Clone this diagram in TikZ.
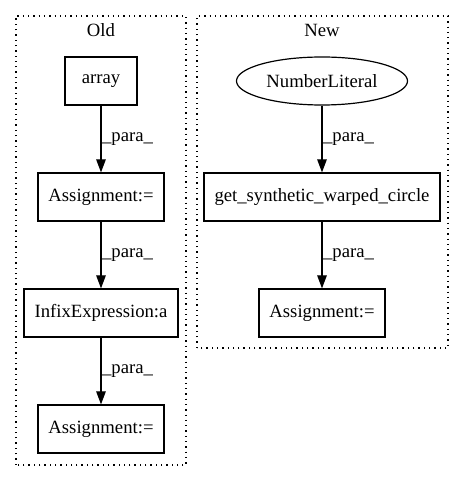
\documentclass[tikz,border=0pt]{standalone}
\usepackage{fontspec}
\setmainfont{Liberation Serif}
\usetikzlibrary{shapes.geometric,arrows.meta}

\begin{document}
\begin{tikzpicture}[x=1pt, y=1pt,
    every node/.style={font=\fontsize{18.7}{22}\selectfont},
    box/.style={draw, rectangle, line width=1.2pt, minimum width=72pt, minimum height=48pt, inner xsep=10.5pt},
    oval/.style={draw, ellipse, line width=1.2pt, minimum width=171pt, minimum height=48pt, inner sep=0pt},
    cluster/.style={draw, line width=1.2pt, dash pattern=on 1.3pt off 4pt},
    edge/.style={-{Triangle[length=13pt, width=9.5pt]}, line width=1.2pt},
    lbl/.style={midway, right, inner sep=0.5pt}]
    \useasboundingbox (0,0) rectangle (464,480);
    % Old cluster
    \draw[cluster] (16,15) rectangle (186,464);
    \node (oldt) at (101,450) {Old};
    \node[box] (arr) at (101,399) {array};
    \node[box] (asg1) at (101,283) {Assignment:=};
    \node[box] (infix) at (101,167) {InfixExpression:a};
    \node[box] (asg2) at (101,51) {Assignment:=};
    % New cluster
    \draw[cluster] (197,132) rectangle (448,464);
    \node (newt) at (322,450) {New};
    \node[oval] (num) at (322,399) {NumberLiteral};
    \node[box] (gswc) at (322,283) {get\_synthetic\_warped\_circle};
    \node[box] (asg3) at (322,167) {Assignment:=};
    % Edges
    \draw[edge] (arr) -- (asg1) node[lbl] {\_para\_};
    \draw[edge] (asg1) -- (infix) node[lbl] {\_para\_};
    \draw[edge] (infix) -- (asg2) node[lbl] {\_para\_};
    \draw[edge] (num) -- (gswc) node[lbl] {\_para\_};
    \draw[edge] (gswc) -- (asg3) node[lbl] {\_para\_};
\end{tikzpicture}
\end{document}
